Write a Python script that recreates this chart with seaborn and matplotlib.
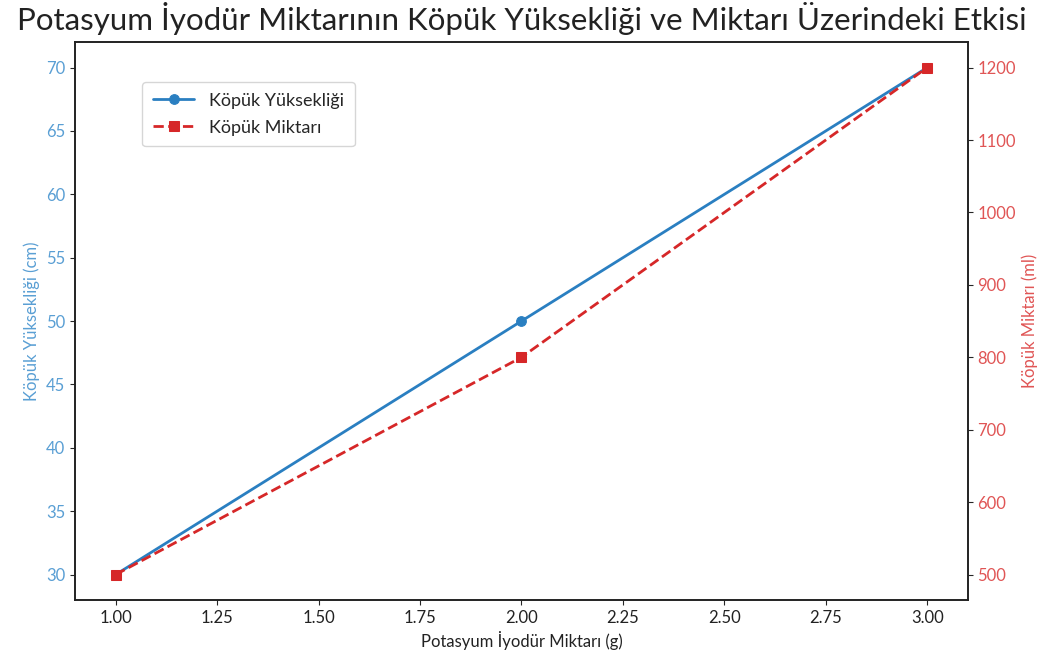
import matplotlib
matplotlib.use("Agg")
import matplotlib.pyplot as plt
import seaborn as sns
import pandas as pd

miktar_g = [1.0, 2.0, 3.0]
kopuk_yukseklik_cm = [30, 50, 70]
kopuk_miktar_ml = [500, 800, 1200]

sns.set_style("ticks")
plt.rcParams['font.family'] = ['Lato', 'DejaVu Sans']

df = pd.DataFrame({"x": miktar_g, "h": kopuk_yukseklik_cm, "m": kopuk_miktar_ml})

fig = plt.figure(figsize=(10.52, 6.70), dpi=100)
ax1 = fig.add_axes([0.0713, 0.1045, 0.8487, 0.8325])
blue = "#2a7fc1"
red = "#d62728"

sns.lineplot(data=df, x="x", y="h", ax=ax1, color=blue, marker="o", markersize=7,
             linewidth=2, markeredgecolor=blue, label="Köpük Yüksekliği", legend=False)
ax2 = ax1.twinx()
sns.lineplot(data=df, x="x", y="m", ax=ax2, color=red, marker="s", markersize=7,
             linewidth=2, linestyle="--", markeredgecolor=red, label="Köpük Miktarı", legend=False)

ax1.set_xlabel("Potasyum İyodür Miktarı (g)", fontsize=12, color="#222222")
ax1.set_ylabel("Köpük Yüksekliği (cm)", fontsize=12, color="#5a9fd4")
ax2.set_ylabel("Köpük Miktarı (ml)", fontsize=12, color="#e05555")
ax1.tick_params(axis="y", labelcolor="#5a9fd4", labelsize=12)
ax2.tick_params(axis="y", labelcolor="#e05555", labelsize=12)
ax1.tick_params(axis="x", labelsize=12, labelcolor="#222222")
ax1.set_xticks([1.0, 1.25, 1.5, 1.75, 2.0, 2.25, 2.5, 2.75, 3.0])
ax1.set_xticklabels([f"{v:.2f}" for v in [1.0, 1.25, 1.5, 1.75, 2.0, 2.25, 2.5, 2.75, 3.0]])
ax1.set_yticks(range(30, 71, 5))
ax2.set_yticks(range(500, 1201, 100))
ax1.set_ylim(28, 72)
ax2.set_ylim(465, 1235)
ax1.set_xlim(0.9, 3.1)

for ax in (ax1, ax2):
    for s in ax.spines.values():
        s.set_color("#222222")
        s.set_linewidth(1.2)

ax1.set_title("Potasyum İyodür Miktarının Köpük Yüksekliği ve Miktarı Üzerindeki Etkisi",
              fontsize=22.5, color="#222222", pad=9)

h1, l1 = ax1.get_legend_handles_labels()
h2, l2 = ax2.get_legend_handles_labels()
leg = ax1.legend(h1 + h2, l1 + l2, loc="upper left", bbox_to_anchor=(0.065, 0.945),
                 fontsize=13, frameon=True, borderpad=0.6, labelspacing=0.6,
                 handlelength=2.3)

fig.savefig("out.png", dpi=100)
